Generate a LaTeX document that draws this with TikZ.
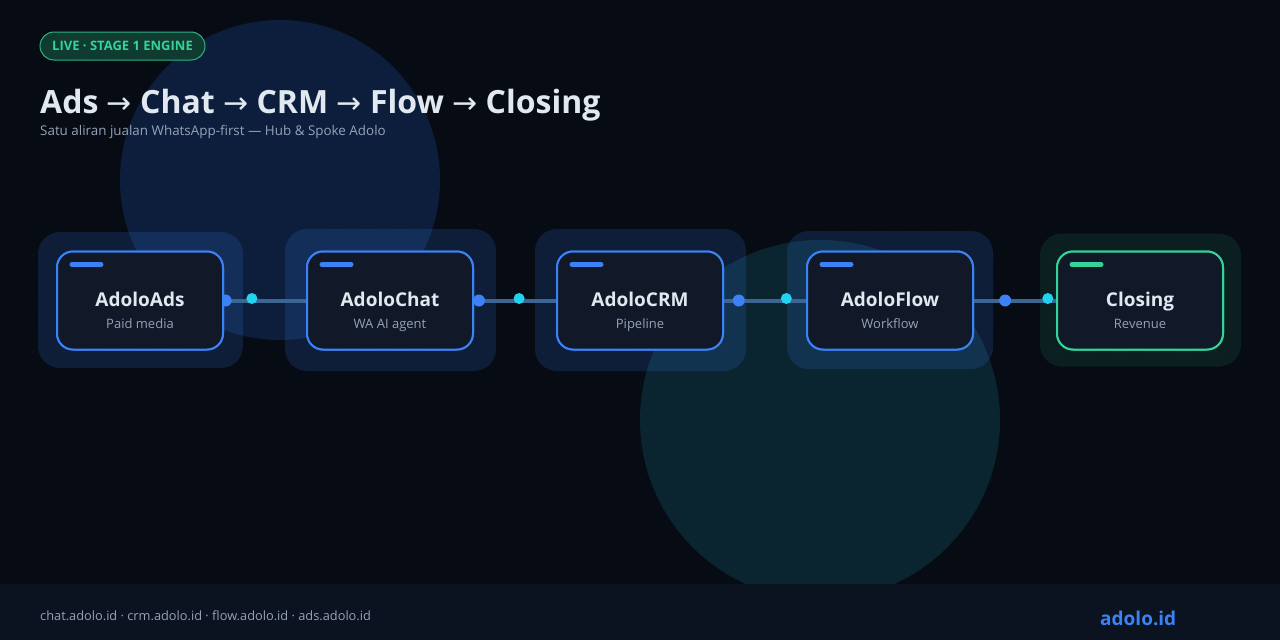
\documentclass[tikz,border=0pt]{standalone}
\usepackage{fontspec}
\setmainfont{Open Sans}
\newfontfamily\arrowfont{DejaVu Sans}
\usetikzlibrary{positioning}
\usetikzlibrary{calc}
\definecolor{bgdark}{HTML}{070B14}
\definecolor{bluecircle}{HTML}{0D1E3D}
\definecolor{tealcircle}{HTML}{0A2530}
\definecolor{griddot}{HTML}{1A2232}
\definecolor{footerbg}{HTML}{0B1220}
\definecolor{adblue}{HTML}{3B82F6}
\definecolor{adgreen}{HTML}{34D399}
\definecolor{adcyan}{HTML}{22D3EE}
\definecolor{boxfill}{HTML}{111827}
\definecolor{linkcol}{HTML}{3D6594}
\definecolor{badgefill}{HTML}{0F3B30}
\definecolor{titlecol}{HTML}{E2E8F0}
\definecolor{mutedcol}{HTML}{94A3B8}
\newcommand{\rarr}{{\arrowfont\mdseries\fontsize{30}{30}\selectfont →}}
\tikzstyle{glow}=[rounded corners=22pt,inner sep=0pt]
\tikzstyle{stage}=[draw=adblue,line width=2pt,rounded corners=16pt,fill=boxfill,minimum width=166pt,minimum height=98pt,inner sep=0pt]
\tikzstyle{accent}=[line width=5pt,line cap=round]
\tikzstyle{stagetitle}=[anchor=base,font=\bfseries\fontsize{19}{22}\selectfont,text=titlecol,inner sep=0pt]
\tikzstyle{stagesub}=[anchor=base,font=\fontsize{13}{15}\selectfont,text=mutedcol,inner sep=0pt]
\tikzstyle{link}=[draw=linkcol,line width=4pt]
\tikzstyle{bluedot}=[circle,fill=adblue,minimum size=12pt,inner sep=0pt]
\tikzstyle{cyandot}=[circle,fill=adcyan,minimum size=11pt,inner sep=0pt]
\tikzstyle{badge}=[draw=adgreen!85!black,line width=1pt,fill=badgefill,rounded corners=14pt,minimum width=165pt,minimum height=28pt,inner sep=0pt,text=adgreen,font=\bfseries\fontsize{13}{15}\selectfont]

\begin{document}
\begin{tikzpicture}[x=1pt,y=-1pt]
    % Background, soft circles and dot grid
    \useasboundingbox (0,0) rectangle (1280,640);
    \fill[bgdark] (0,0) rectangle (1280,640);
    \fill[bluecircle] (280,180) circle (160);
    \fill[tealcircle] (820,420) circle (180);
    \foreach \i in {0,...,39}
        \foreach \j in {0,...,18}
            \fill[griddot] (32*\i,32*\j) circle (0.9);

    % Header
    \node[badge] (badge) at (122.5,46) {LIVE · STAGE 1 ENGINE};
    \node[anchor=base west,inner sep=0pt,text=titlecol,font=\bfseries\fontsize{32}{38}\selectfont] (title) at (40,113)
        {Ads \rarr{} Chat \rarr{} CRM \rarr{} Flow \rarr{} Closing};
    \node[anchor=base west,inner sep=0pt,text=mutedcol,font=\fontsize{13.4}{15}\selectfont] (subtitle) at (40,135)
        {Satu aliran jualan WhatsApp-first — Hub \& Spoke Adolo};

    % First we draw the glows behind the stages
    \foreach \x/\name/\gw/\gh/\col/\op in {140.5/ads/205/136/adblue/0.16, 390.5/chat/211/142/adblue/0.16, 640.5/crm/211/142/adblue/0.16, 890/flow/206/138/adblue/0.16, 1140.5/closing/201/133/adgreen/0.1}
        \node[glow,fill=\col,fill opacity=\op,minimum width=\gw pt,minimum height=\gh pt] (\name-glow) at (\x,300) {};

    % Then the stage boxes (empty, texts come later)
    \foreach \x/\name/\col in {140/ads/adblue, 390/chat/adblue, 640/crm/adblue, 890/flow/adblue, 1140/closing/adgreen}
        \node[stage,draw=\col] (\name) at (\x,300.5) {};

    % Connect stages with links and moving dots
    \foreach \source/\dest/\bpos/\cpos in {ads/chat/0.02/0.34, chat/crm/0.06/0.55, crm/flow/0.18/0.76, flow/closing/0.38/0.90}
    {
        \path[link] (\source.east) -- (\dest.west);
        \node[bluedot] at ($(\source.east)!\bpos!(\dest.west)$) {};
        \node[cyandot] at ($(\source.east)!\cpos!(\dest.west)+(0,-2)$) {};
    }

    % Redraw boxes on top of the links
    \foreach \x/\name/\col in {140/ads/adblue, 390/chat/adblue, 640/crm/adblue, 890/flow/adblue, 1140/closing/adgreen}
    {
        \node[stage,draw=\col] at (\x,300.5) {};
        \draw[accent,\col] ($(\name.north west)+(16,14)$) -- ++(29,0);
    }

    % Stage labels
    \foreach \name/\title/\sub in {ads/AdoloAds/Paid media, chat/AdoloChat/WA AI agent, crm/AdoloCRM/Pipeline, flow/AdoloFlow/Workflow, closing/Closing/Revenue}
    {
        \node[stagetitle] (\name-title) at ($(\name.center)+(0,6)$) {\title};
        \node[stagesub] (\name-sub) at ($(\name.center)+(0,28)$) {\sub};
    }

    % Footer
    \fill[footerbg] (0,584) rectangle (1280,640);
    \node[anchor=base west,inner sep=0pt,text=mutedcol,font=\fontsize{12.8}{15}\selectfont] (domains) at (40,620)
        {chat.adolo.id · crm.adolo.id · flow.adolo.id · ads.adolo.id};
    \node[anchor=base west,inner sep=0pt,text=adblue,font=\bfseries\fontsize{19}{22}\selectfont] (brand) at (1100,625) {adolo.id};
\end{tikzpicture}
\end{document}
